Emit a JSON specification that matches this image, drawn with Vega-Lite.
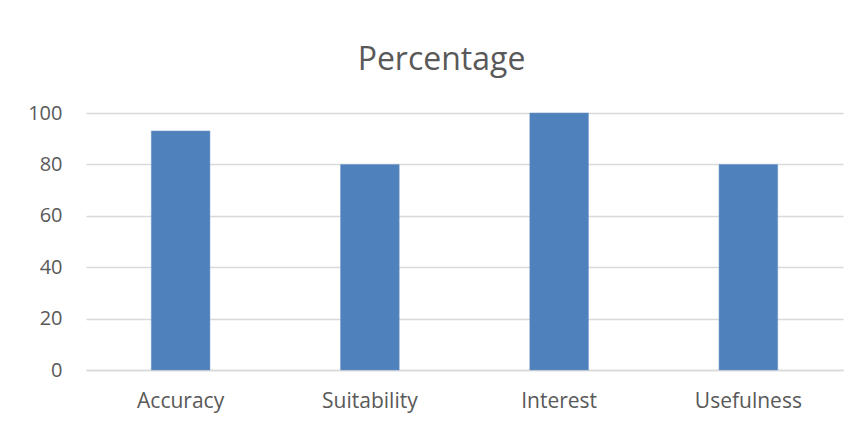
{
  "$schema": "https://vega.github.io/schema/vega-lite/v6.json",
  "width": 757,
  "height": 257,
  "autosize": {"type": "none"},
  "padding": {"left": 86, "top": 113, "right": 16, "bottom": 55},
  "background": "white",
  "title": {
    "text": "Percentage",
    "font": "Open Sans",
    "fontSize": 32,
    "fontWeight": "normal",
    "color": "#595959",
    "anchor": "middle",
    "frame": "group",
    "dx": -23,
    "offset": 26
  },
  "data": {
    "values": [
      {"category": "Accuracy", "value": 93},
      {"category": "Suitability", "value": 80},
      {"category": "Interest", "value": 100},
      {"category": "Usefulness", "value": 80}
    ]
  },
  "mark": {"type": "bar", "color": "#4F81BD", "stroke": "#6F96C9", "strokeWidth": 0.5},
  "encoding": {
    "x": {
      "field": "category",
      "type": "nominal",
      "sort": null,
      "scale": {"paddingInner": 0.69, "paddingOuter": 0.345},
      "axis": {
        "title": null,
        "labelAngle": 0,
        "ticks": false,
        "domainColor": "#D9D9D9",
        "domainWidth": 1.5,
        "labelFont": "Open Sans",
        "labelFontSize": 21,
        "labelColor": "#595959",
        "labelPadding": 20
      }
    },
    "y": {
      "field": "value",
      "type": "quantitative",
      "scale": {"domain": [0, 100]},
      "axis": {
        "title": null,
        "values": [0, 20, 40, 60, 80, 100],
        "ticks": false,
        "domain": false,
        "gridColor": "#D9D9D9",
        "gridWidth": 1.5,
        "labelFont": "Open Sans",
        "labelFontSize": 20,
        "labelColor": "#595959",
        "labelPadding": 24
      }
    }
  },
  "config": {"view": {"stroke": null}}
}
